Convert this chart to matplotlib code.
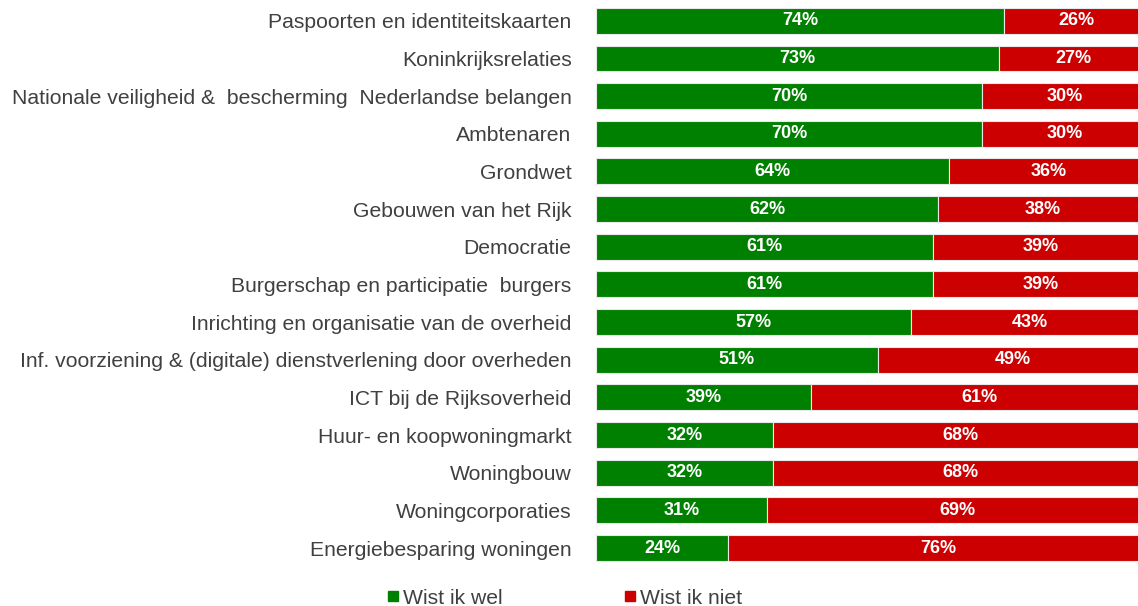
import matplotlib
matplotlib.use('Agg')
import matplotlib.pyplot as plt
from matplotlib.lines import Line2D

# data, top to bottom as in the chart
categories = [
    'Paspoorten en identiteitskaarten',
    'Koninkrijksrelaties',
    'Nationale veiligheid &  bescherming  Nederlandse belangen',
    'Ambtenaren',
    'Grondwet',
    'Gebouwen van het Rijk',
    'Democratie',
    'Burgerschap en participatie  burgers',
    'Inrichting en organisatie van de overheid',
    'Inf. voorziening & (digitale) dienstverlening door overheden',
    'ICT bij de Rijksoverheid',
    'Huur- en koopwoningmarkt',
    'Woningbouw',
    'Woningcorporaties',
    'Energiebesparing woningen',
]
wist_wel = [74, 73, 70, 70, 64, 62, 61, 61, 57, 51, 39, 32, 32, 31, 24]
wist_niet = [26, 27, 30, 30, 36, 38, 39, 39, 43, 49, 61, 68, 68, 69, 76]
series_names = ['Wist ik wel', 'Wist ik niet']

GREEN = '#008000'
RED = '#CC0000'
TEXT = '#404040'

plt.rcParams['font.family'] = ['Liberation Sans', 'DejaVu Sans']

fig = plt.figure(figsize=(11.38, 6.06), dpi=100)
ax = fig.add_axes([0.5237, 0.0644, 0.4851, 0.9323])

y = list(range(len(categories)))
ax.barh(y, wist_wel, height=0.69, color=GREEN, edgecolor='#e8e8e8', linewidth=0.8)
ax.barh(y, wist_niet, left=wist_wel, height=0.69, color=RED, edgecolor='#e8e8e8', linewidth=0.8)

for i in y:
    ax.text(wist_wel[i] / 2, i, f'{wist_wel[i]}%', ha='center', va='center',
            color='white', fontsize=13, fontweight='bold')
    ax.text(wist_wel[i] + wist_niet[i] / 2, i, f'{wist_niet[i]}%', ha='center', va='center',
            color='white', fontsize=13, fontweight='bold')

ax.set_xlim(0, 100)
ax.set_ylim(len(categories) - 0.5, -0.5)
ax.set_yticks(y)
ax.set_yticklabels(categories, fontsize=15.2, color=TEXT)
ax.tick_params(axis='y', length=0, pad=17.5)
ax.set_xticks([])
for s in ax.spines.values():
    s.set_visible(False)

handles = [Line2D([], [], marker='s', ls='', color=GREEN, markersize=7),
           Line2D([], [], marker='s', ls='', color=RED, markersize=7)]
fig.legend(handles, series_names, loc='center', bbox_to_anchor=(0.494, 0.013),
           ncol=2, frameon=False, fontsize=15.2, labelcolor=TEXT,
           handletextpad=0.0, columnspacing=5.5, handlelength=1.0)

fig.savefig('out.png', dpi=100, facecolor='white')
